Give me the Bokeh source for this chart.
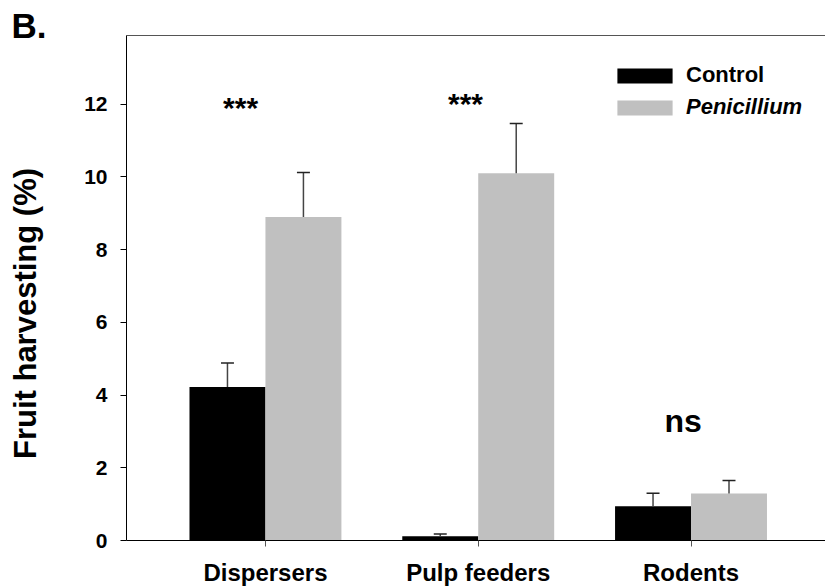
import numpy as np
from bokeh.plotting import figure
from bokeh.models import (Range1d, FixedTicker, LinearAxis, Label, Legend, LegendItem,
                          ColumnDataSource)
from bokeh.embed import file_html
from bokeh.resources import INLINE
from bokeh.core.properties import value

# ---------------- data ----------------
categories = ["Dispersers", "Pulp feeders", "Rodents"]
control = [4.22, 0.12, 0.94]
control_err = [0.66, 0.06, 0.36]
penicillium = [8.90, 10.10, 1.29]
penicillium_err = [1.22, 1.37, 0.36]
significance = ["***", "***", "ns"]
series_names = ["Control", "Penicillium"]
y_ticks = [0, 2, 4, 6, 8, 10, 12]
y_label = "Fruit harvesting (%)"
panel_tag = "B."

# ---------------- layout / style ----------------
FONT = "Liberation Sans"
pos = np.arange(1, len(categories) + 1)
bw = 0.357
cap = 0.0305
sig_dx = [-0.117, -0.06, -0.037]
sig_y = [11.92, 12.01, 3.28]
sig_size = ["30px", "30px", "32px"]

x_lo, x_hi = 0.347, 3.632
y_lo, y_hi = 0.0, 13.89

p = figure(width=825, height=588,
           x_range=Range1d(x_lo, x_hi), y_range=Range1d(y_lo, y_hi),
           output_backend="svg", toolbar_location=None,
           min_border_left=126, min_border_top=35,
           min_border_right=0, min_border_bottom=48)
p.outline_line_color = None
p.xgrid.visible = False
p.ygrid.visible = False
p.background_fill_color = "white"
p.border_fill_color = "white"

xc = pos - bw / 2
xp = pos + bw / 2
src_c = ColumnDataSource(dict(x=xc, top=control, upper=np.array(control) + np.array(control_err),
                              xl=xc - cap, xr=xc + cap))
src_p = ColumnDataSource(dict(x=xp, top=penicillium, upper=np.array(penicillium) + np.array(penicillium_err),
                              xl=xp - cap, xr=xp + cap))

r_c = p.vbar(x="x", top="top", width=bw, source=src_c, fill_color="black", line_color=None)
r_p = p.vbar(x="x", top="top", width=bw, source=src_p, fill_color="#c0c0c0", line_color=None)

for src in (src_c, src_p):
    p.segment(x0="x", y0="top", x1="x", y1="upper", source=src, line_color="#444444", line_width=1.5)
    p.segment(x0="xl", y0="upper", x1="xr", y1="upper", source=src, line_color="#222222", line_width=1.5)

src_s = ColumnDataSource(dict(x=pos + np.array(sig_dx), y=sig_y, text=significance, size=sig_size))
p.text(x="x", y="y", text="text", source=src_s, text_font=value(FONT),
       text_font_style="bold", text_font_size="size", text_align="center",
       text_baseline="alphabetic", text_color="black")

# axes
xa = p.xaxis[0]
xa.ticker = FixedTicker(ticks=list(pos))
xa.major_label_overrides = {int(i): c for i, c in zip(pos, categories)}
xa.minor_tick_line_color = None
xa.major_tick_out = 6
xa.major_tick_in = 0
xa.major_tick_line_color = "#555555"
xa.axis_line_color = "black"
xa.major_label_text_font = FONT
xa.major_label_text_font_style = "bold"
xa.major_label_text_font_size = "24px"
xa.major_label_text_color = "black"
xa.major_label_standoff = 12

ya = p.yaxis[0]
ya.ticker = FixedTicker(ticks=y_ticks)
ya.minor_tick_line_color = None
ya.major_tick_out = 6
ya.major_tick_in = 0
ya.major_tick_line_color = "black"
ya.axis_line_color = "black"
ya.major_label_text_font = FONT
ya.major_label_text_font_style = "bold"
ya.major_label_text_font_size = "21px"
ya.major_label_text_color = "black"
ya.major_label_standoff = 13

top_axis = LinearAxis(ticker=FixedTicker(ticks=[]), axis_line_color="#555555",
                      major_tick_line_color=None, minor_tick_line_color=None,
                      major_label_text_font_size="0px", major_label_standoff=0)
p.add_layout(top_axis, "above")

# y label and panel tag (canvas units, in the left side panel so they are not clipped)
p.add_layout(Label(x=25, y=313, x_units="canvas", y_units="canvas", text=y_label,
                   angle=np.pi / 2, text_align="center", text_baseline="middle",
                   text_font=FONT, text_font_style="bold", text_font_size="31px",
                   text_color="black"), "left")
p.add_layout(Label(x=11, y=25, x_units="canvas", y_units="canvas", text=panel_tag,
                   text_align="left", text_baseline="middle",
                   text_font=FONT, text_font_style="bold", text_font_size="35px",
                   text_color="black"), "left")

# legends
common = dict(glyph_width=69, glyph_height=19, label_standoff=7, padding=0, margin=0,
              spacing=0, border_line_color=None, background_fill_alpha=0,
              label_text_font=FONT, label_text_font_size="22px", label_height=15,
              label_text_color="black")
leg1 = Legend(items=[LegendItem(label=series_names[0], renderers=[r_c])],
              location=(484, 452), label_text_font_style="bold", **common)
leg2 = Legend(items=[LegendItem(label=series_names[1], renderers=[r_p])],
              location=(484, 420), label_text_font_style="bold italic", **common)
p.add_layout(leg1)
p.add_layout(leg2)

open("out.html", "w").write(file_html(p, INLINE))
